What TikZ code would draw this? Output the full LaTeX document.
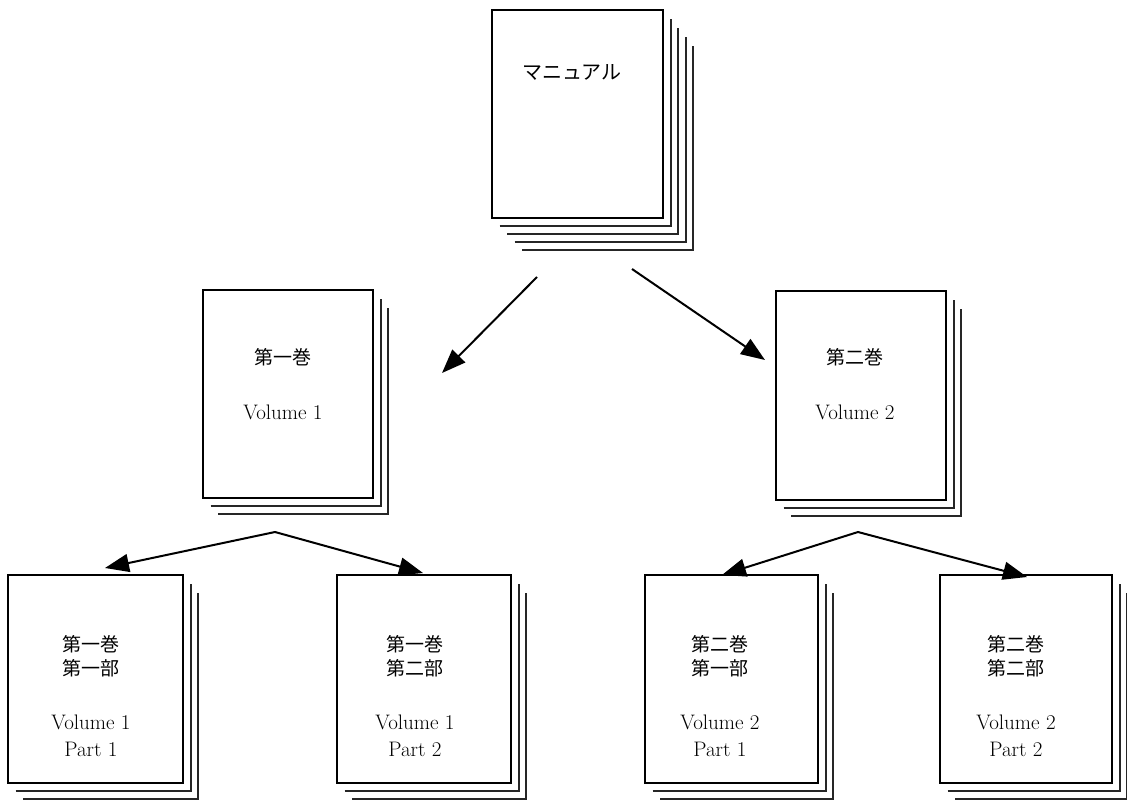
\documentclass[tikz,border=0pt]{standalone}
\usepackage{fontspec}
\newfontfamily\jpfont{Noto Sans CJK JP}
\usetikzlibrary{arrows.meta,positioning}

% a page with #6 sheets behind it: name, left, top, right, bottom, sheets
\newcommand{\docstack}[6]{%
  \foreach \k in {1,...,#6}
    \draw[Sheet] ({#2+7.5*\k},{#5+8*\k}) -- ({#4+7.5*\k},{#5+8*\k}) -- ({#4+7.5*\k},{#3+9*\k});
  \node[Page, minimum width={#4-#2}, minimum height={#5-#3}] (#1) at ({(#2+#4)/2},{(#3+#5)/2}) {};
}

\begin{document}
\begin{tikzpicture}[x=1pt,y=-1pt]
        \tikzset{Page/.style={%
            shape=rectangle,%
            draw=black,%
            fill=white,%
            line width=2.2pt,%
            inner sep=0pt,%
        }}
        \tikzset{Sheet/.style={draw=black!85, line width=2pt}}
        \tikzset{JpText/.style={font=\jpfont\fontsize{19}{24}\selectfont, align=center, inner sep=0pt}}
        \tikzset{EnText/.style={font=\fontsize{21}{27}\selectfont, align=center, inner sep=0pt}}
        \tikzset{Link/.style={-{Triangle[length=24pt,width=18pt]}, line width=2pt}}

        \useasboundingbox (0,0) rectangle (1127,800);

        % pages
        \docstack{manual}{492}{10}{663}{218}{4}
        \docstack{vol1}{203}{290}{373}{498}{2}
        \docstack{vol2}{776}{291}{946}{500}{2}
        \docstack{part11}{8}{575}{183}{783}{2}
        \docstack{part12}{337}{575}{511}{783}{2}
        \docstack{part21}{645}{575}{818}{783}{2}
        \docstack{part22}{940}{575}{1112}{783}{2}

        % texts
        \node[JpText, font=\jpfont\fontsize{20}{24}\selectfont] (manual-t) at (572,72) {マニュアル};
        \node[JpText] (vol1-jp) at (283,357) {第一巻};
        \node[EnText] (vol1-en) at (283,412) {Volume 1};
        \node[JpText] (vol2-jp) at (855,357) {第二巻};
        \node[EnText] (vol2-en) at (855,412) {Volume 2};
        \node[JpText] (part11-jp) at (91,656) {第一巻\\第一部};
        \node[EnText] (part11-en) at (91,736) {Volume 1\\Part 1};
        \node[JpText] (part12-jp) at (415,656) {第一巻\\第二部};
        \node[EnText] (part12-en) at (415,736) {Volume 1\\Part 2};
        \node[JpText] (part21-jp) at (720,656) {第二巻\\第一部};
        \node[EnText] (part21-en) at (720,736) {Volume 2\\Part 1};
        \node[JpText] (part22-jp) at (1016,656) {第二巻\\第二部};
        \node[EnText] (part22-en) at (1016,736) {Volume 2\\Part 2};

        % arrow ends
        \coordinate (manual-l) at (537,277);
        \coordinate (manual-r) at (632,269);
        \coordinate (vol1-in) at (442,373);
        \coordinate (vol2-in) at (765,360);
        \coordinate (vol1-out) at (275,532);
        \coordinate (vol2-out) at (858,532);
        \coordinate (part11-in) at (105,568);
        \coordinate (part12-in) at (423,573);
        \coordinate (part21-in) at (722,575);
        \coordinate (part22-in) at (1027,577);

        \path (manual-l) edge[Link] (vol1-in);
        \path (manual-r) edge[Link] (vol2-in);
        \path (vol1-out) edge[Link] (part11-in);
        \path (vol1-out) edge[Link] (part12-in);
        \path (vol2-out) edge[Link] (part21-in);
        \path (vol2-out) edge[Link] (part22-in);
\end{tikzpicture}
\end{document}
